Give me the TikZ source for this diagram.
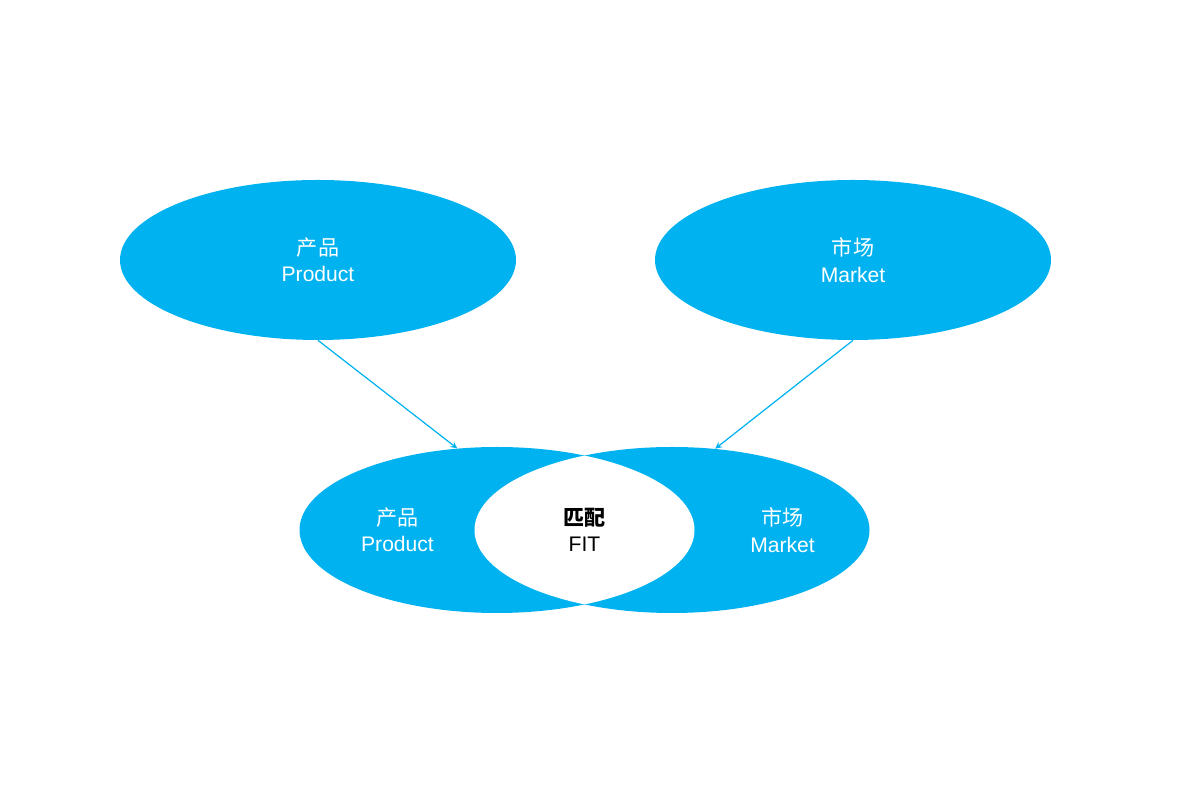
\documentclass[tikz,border=0pt]{standalone}
\usepackage{fontspec}
\setmainfont{Liberation Sans}
\newfontfamily\cjk{Noto Sans CJK SC}
\usetikzlibrary{shapes.geometric}
\definecolor{skyblue}{RGB}{0,178,240}

\tikzset{
  blob/.style={ellipse, fill=skyblue, draw=none, text=white, align=center,
    font=\fontsize{12}{15}\selectfont},
  link/.style={->, >=stealth, draw=skyblue, line width=0.7pt}
}

\begin{document}
\begin{tikzpicture}
      \useasboundingbox (0,0) rectangle (23.62,16);
      \node (pl) [blob, minimum width=7.92cm, minimum height=3.2cm] at (6.36, 10.8) {
        {\cjk 产品} \\ Product
      };
      \node (pm) [blob, minimum width=7.92cm, minimum height=3.2cm] at (17.06, 10.8) {
        {\cjk 市场} \\ Market
      };
      \node (bl) [blob, minimum width=7.9cm, minimum height=3.32cm] at (9.94, 5.4) {};
      \node (br) [blob, minimum width=7.9cm, minimum height=3.32cm] at (13.44, 5.4) {};
      \begin{scope}
        \clip (9.94, 5.4) ellipse (3.95 and 1.66);
        \fill[white] (13.44, 5.4) ellipse (3.95 and 1.66);
      \end{scope}
      \node (tl) [text=white, align=center, font=\fontsize{12}{15}\selectfont] at (7.95, 5.4) {
        {\cjk 产品} \\ Product
      };
      \node (tr) [text=white, align=center, font=\fontsize{12}{15}\selectfont] at (15.65, 5.4) {
        {\cjk 市场} \\ Market
      };
      \node (fit) [align=center, font=\fontsize{12}{15}\selectfont] at (11.69, 5.4) {
        {\cjk\bfseries 匹配} \\ FIT
      };

      \draw[link] (pl.south) -- (bl.116);
      \draw[link] (pm.south) -- (br.62);
    \end{tikzpicture}
\end{document}
